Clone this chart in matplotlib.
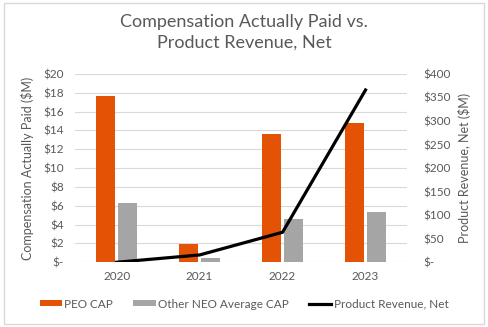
import matplotlib
matplotlib.use("Agg")
import matplotlib.pyplot as plt
import numpy as np
from matplotlib.patches import Rectangle

years = ["2020", "2021", "2022", "2023"]
peo_cap = [17.7, 1.98, 13.65, 14.8]
neo_cap = [6.33, 0.45, 4.6, 5.37]
revenue = [0.0, 15.5, 63.7, 365.8]
left_ticks = list(range(0, 21, 2))
right_ticks = list(range(0, 401, 50))

plt.rcParams['font.family'] = ['Lato', 'DejaVu Sans']
txt = '#595959'

fig = plt.figure(figsize=(4.88, 3.27), dpi=100)
fig.patches.append(Rectangle((0.008, 0.01), 0.984, 0.982, transform=fig.transFigure,
                             fill=False, edgecolor='#d9d9d9', linewidth=1))
ax = fig.add_axes([0.154, 0.198, 0.68, 0.576])
x = np.arange(len(years))
w = 0.23
ax.bar(x - 0.13, peo_cap, w, color='#E35205', label='PEO CAP', zorder=3)
ax.bar(x + 0.13, neo_cap, w, color='#A5A5A5', label='Other NEO Average CAP', zorder=3)
ax.set_xlim(-0.5, 3.5)
ax.set_ylim(0, 20)
ax.set_yticks(left_ticks)
ax.set_yticklabels(['$-' if v == 0 else f'${v}' for v in left_ticks])
ax.set_xticks(x)
ax.set_xticklabels(years)
ax.grid(axis='y', color='#d9d9d9', linewidth=0.8, zorder=0)
for s in ax.spines.values():
    s.set_visible(False)
ax.tick_params(length=0, colors=txt, labelsize=8.5, pad=8)
ax.tick_params(axis='x', pad=6)
ax.set_ylabel('Compensation Actually Paid ($M)', color=txt, fontsize=9, labelpad=7)

ax2 = ax.twinx()
ax2.plot(x, revenue, color='black', linewidth=2.3, label='Product Revenue, Net', zorder=4)
ax2.set_ylim(0, 400)
ax2.set_yticks(right_ticks)
ax2.set_yticklabels(['$-' if v == 0 else f'${v}' for v in right_ticks])
for s in ax2.spines.values():
    s.set_visible(False)
ax2.tick_params(length=0, colors=txt, labelsize=8.5, pad=12)
ax2.set_ylabel('Product Revenue, Net ($M)', color=txt, fontsize=9, labelpad=5)

fig.text(0.5, 0.9, 'Compensation Actually Paid vs.\nProduct Revenue, Net', ha='center', va='center',
         color=txt, fontsize=13, linespacing=1.35)

h1, l1 = ax.get_legend_handles_labels()
h2, l2 = ax2.get_legend_handles_labels()
fig.legend(h1 + h2, l1 + l2, loc='center', bbox_to_anchor=(0.5, 0.07), ncol=3, frameon=False,
           fontsize=8.5, labelcolor=txt, handlelength=1.9, handleheight=0.4, handletextpad=0.2,
           columnspacing=1.7)

fig.savefig('out.png', dpi=100)
